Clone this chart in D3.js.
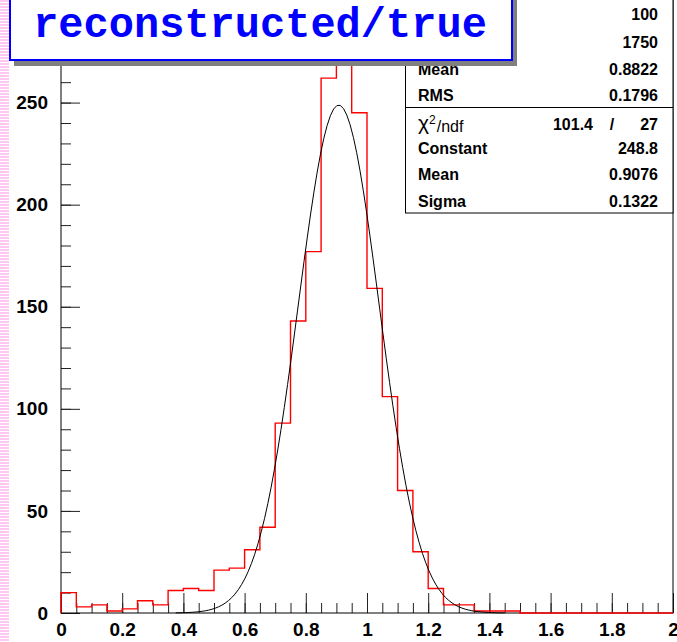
<!DOCTYPE html>
<html>
<head>
<meta charset="utf-8">
<script src="https://cdn.jsdelivr.net/npm/d3@7/dist/d3.min.js"></script>
<style>
  body { margin: 0; background: #fff; }
  svg { display: block; }
  .tick text { font-family: "Liberation Sans", Arial, sans-serif; font-weight: bold; font-size: 19px; fill: #000; }
  .stats text { font-family: "Liberation Sans", Arial, sans-serif; font-size: 16px; fill: #000; }
</style>
</head>
<body>
<svg width="677" height="642"></svg>
<script>
// histogram: 40 bins of 0.05 between 0 and 2
const binLow = 0, binHigh = 2;
const counts = [10, 3, 4, 1, 2, 6, 4, 11, 12, 11,
                21, 22, 31, 42, 93, 143, 177, 262, 272, 245,
                159, 106, 60, 30, 12, 4, 4, 1, 1, 1,
                0, 0, 0, 0, 0, 0, 0, 0, 0, 0];

// gaussian fit
const fitConstant = 248.8, fitMean = 0.9076, fitSigma = 0.1322;
const fitRange = [0.375, 1.45];

const xTickLabels = [0, 0.2, 0.4, 0.6, 0.8, 1, 1.2, 1.4, 1.6, 1.8, 2];
const yTickLabels = [0, 50, 100, 150, 200, 250];

// first two labels sit under the title box, only the values show
const statsLabels = ['', '', 'Mean', 'RMS'];
const statsValues = ['100', '1750', '0.8822', '0.1796'];
const fitLabels = ['Constant', 'Mean', 'Sigma'];
const fitValues = ['248.8', '0.9076', '0.1322'];
const chi2 = '101.4', ndf = '27';

const title = 'reconstructed/true';

const svg = d3.select('svg');
const W = 677, H = 642;

// pink striped strip on the left
const stripe = svg.append('defs').append('pattern')
  .attr('id', 'stripes').attr('width', 9).attr('height', 3)
  .attr('patternUnits', 'userSpaceOnUse');
stripe.append('rect').attr('width', 9).attr('height', 2).attr('fill', '#ffc8f2');
svg.append('rect').attr('x', 0).attr('y', 0).attr('width', 9).attr('height', H)
  .attr('fill', 'url(#stripes)');

const x = d3.scaleLinear().domain([binLow, binHigh]).range([61, 673]);
const y = d3.scaleLinear().domain([0, 300]).range([613, 0.5]);

// minor ticks
svg.append('g')
  .attr('transform', 'translate(0,613)')
  .call(d3.axisBottom(x).tickValues(d3.range(0, 41).map(i => i * 0.05)).tickSize(-10).tickFormat(''))
  .call(g => g.select('.domain').remove());
svg.append('g')
  .attr('transform', 'translate(61,0)')
  .call(d3.axisLeft(y).tickValues(d3.range(0, 30).map(i => i * 10)).tickSize(-10).tickFormat(''))
  .call(g => g.select('.domain').remove());

// major ticks + labels
svg.append('g')
  .attr('transform', 'translate(0,613)')
  .call(d3.axisBottom(x).tickValues(xTickLabels).tickSize(-20).tickPadding(10).tickFormat(d3.format('~g')))
  .call(g => g.select('.domain').remove());
svg.append('g')
  .attr('transform', 'translate(61,0)')
  .call(d3.axisLeft(y).tickValues(yTickLabels).tickSize(-19).tickPadding(13))
  .call(g => g.select('.domain').remove());

svg.selectAll('.tick line').attr('stroke', '#222');

// frame
svg.append('rect')
  .attr('x', 61).attr('y', 0.5).attr('width', 612).attr('height', 612.5)
  .attr('fill', 'none').attr('stroke', '#000').attr('stroke-width', 1);

// histogram outline
const binW = (binHigh - binLow) / counts.length;
const steps = [[binLow, 0]];
counts.forEach((c, i) => {
  steps.push([binLow + i * binW, c]);
  steps.push([binLow + (i + 1) * binW, c]);
});
steps.push([binHigh, 0]);
svg.append('path')
  .datum(steps)
  .attr('fill', 'none')
  .attr('stroke', '#ff0000')
  .attr('stroke-width', 1.4)
  .attr('d', d3.line().x(d => x(d[0])).y(d => y(d[1])));

// fit curve, 100 points like ROOT's default
const fitPts = d3.range(0, 101).map(i => {
  const xv = fitRange[0] + (fitRange[1] - fitRange[0]) * i / 100;
  return [xv, fitConstant * Math.exp(-0.5 * Math.pow((xv - fitMean) / fitSigma, 2))];
});
svg.append('path')
  .datum(fitPts)
  .attr('fill', 'none')
  .attr('stroke', '#000')
  .attr('stroke-width', 1)
  .attr('d', d3.line().x(d => x(d[0])).y(d => y(d[1])));

// stats box
const stats = svg.append('g').attr('class', 'stats');
stats.append('rect')
  .attr('x', 405.5).attr('y', -1).attr('width', 267.5).attr('height', 214)
  .attr('fill', '#fff').attr('stroke', '#000');
stats.append('line')
  .attr('x1', 405.5).attr('x2', 673).attr('y1', 107.5).attr('y2', 107.5)
  .attr('stroke', '#000');

const rowY = [14, 42, 69, 95];
statsLabels.forEach((l, i) => {
  if (l) {
    stats.append('text').attr('x', 418).attr('y', rowY[i]).attr('dy', '0.36em')
      .attr('font-weight', 'bold').attr('font-size', '18px').text(l);
  }
  stats.append('text').attr('x', 658).attr('y', rowY[i]).attr('dy', '0.36em')
    .attr('text-anchor', 'end').attr('font-weight', 'bold').attr('font-size', '15px').text(statsValues[i]);
});

const chiText = stats.append('text').attr('x', 418).attr('y', 124).attr('dy', '0.36em')
  .attr('font-size', '19px');
chiText.append('tspan').attr('font-size', '21px').text('\u03c7');
chiText.append('tspan').attr('dy', '-0.45em').attr('font-size', '12px').text('2');
chiText.append('tspan').attr('dy', '0.45em').attr('dx', '1px').text('/ndf');
stats.append('text').attr('x', 593).attr('y', 124).attr('dy', '0.36em')
  .attr('text-anchor', 'end').attr('font-weight', 'bold').attr('font-size', '15px').text(chi2);
stats.append('text').attr('x', 612).attr('y', 124).attr('dy', '0.36em')
  .attr('text-anchor', 'middle').attr('font-weight', 'bold').attr('font-size', '15px').text('/');
stats.append('text').attr('x', 658).attr('y', 124).attr('dy', '0.36em')
  .attr('text-anchor', 'end').attr('font-weight', 'bold').attr('font-size', '15px').text(ndf);

const fitRowY = [148, 174, 201];
fitLabels.forEach((l, i) => {
  stats.append('text').attr('x', 418).attr('y', fitRowY[i]).attr('dy', '0.36em')
    .attr('font-weight', 'bold').attr('font-size', '18px').text(l);
  stats.append('text').attr('x', 658).attr('y', fitRowY[i]).attr('dy', '0.36em')
    .attr('text-anchor', 'end').attr('font-weight', 'bold').attr('font-size', '15px').text(fitValues[i]);
});

// title box with shadow
svg.append('rect')
  .attr('x', 14).attr('y', -5).attr('width', 503).attr('height', 71)
  .attr('fill', '#808080');
svg.append('rect')
  .attr('x', 10).attr('y', -10).attr('width', 502).attr('height', 70)
  .attr('fill', '#fff').attr('stroke', '#0000ff').attr('stroke-width', 2);
svg.append('text')
  .attr('x', 260).attr('y', 37)
  .attr('text-anchor', 'middle')
  .attr('font-family', '"Liberation Mono", "Courier New", monospace')
  .attr('font-weight', 'bold')
  .attr('font-size', '42px')
  .attr('fill', '#0000ff')
  .text(title);
</script>
</body>
</html>
